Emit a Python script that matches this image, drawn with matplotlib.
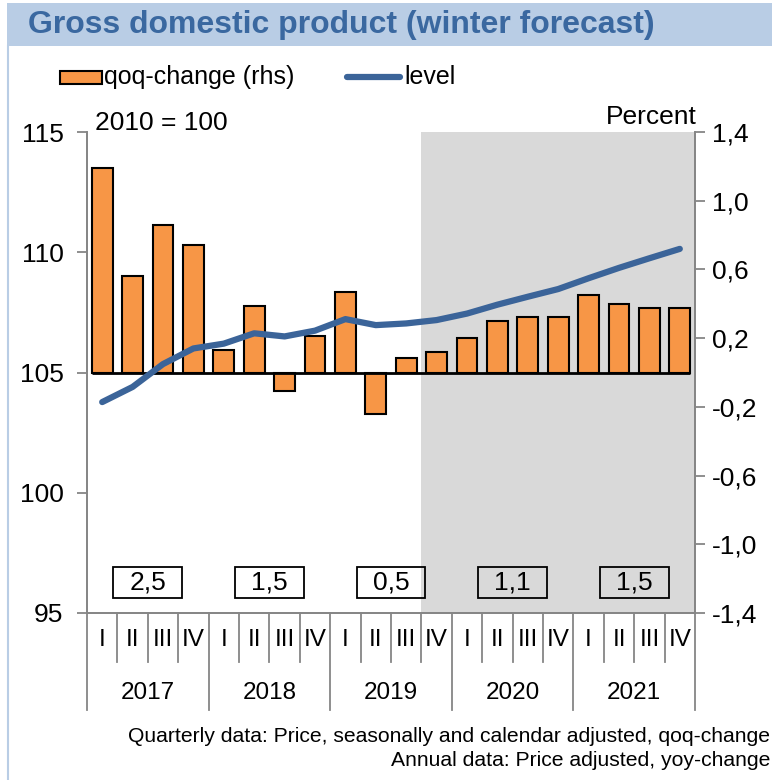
import matplotlib.pyplot as plt
from matplotlib.patches import Rectangle
from matplotlib.lines import Line2D
import matplotlib.transforms as mtransforms

plt.rcParams['font.family'] = ['Liberation Sans', 'DejaVu Sans']

years = ["2017", "2018", "2019", "2020", "2021"]
quarters = ["I", "II", "III", "IV"]
annual = ["2,5", "1,5", "0,5", "1,1", "1,5"]

qoq = [1.19, 0.56, 0.86, 0.74,
       0.13, 0.39, -0.11, 0.21,
       0.47, -0.24, 0.085, 0.12,
       0.20, 0.30, 0.325, 0.325,
       0.45, 0.40, 0.375, 0.375]
level = [103.77, 104.4, 105.35, 106.0,
         106.2, 106.63, 106.5, 106.74,
         107.22, 106.97, 107.04, 107.18,
         107.45, 107.82, 108.15, 108.47,
         108.92, 109.35, 109.75, 110.14]

right_ticks = [-1.4, -1.0, -0.6, -0.2, 0.2, 0.6, 1.0, 1.4]
left_ticks = [95, 100, 105, 110, 115]
forecast_start = 11  # first forecast quarter (2019 Q4)

orange = "#f79646"
blue = "#3b6499"
grey = "#868686"
band = "#b9cde5"
title_col = "#3a68a0"

fig = plt.figure(figsize=(7.72, 7.8), dpi=100)
W, H = 772, 780

# title band and frame line
fig.patches.append(Rectangle((7 / W, 1 - 46 / H), 1, 43 / H, transform=fig.transFigure,
                             facecolor=band, edgecolor="none", zorder=0))
fig.add_artist(Line2D([7.5 / W, 7.5 / W], [0, 1 - 46 / H], transform=fig.transFigure,
                      color=band, lw=1.5))
fig.text(28 / W, 1 - 25 / H, "Gross domestic product (winter forecast)", fontsize=23,
         fontweight="bold", color=title_col, va="center", ha="left")

ax = fig.add_axes([87 / W, 1 - 613 / H, (695 - 87) / W, (613 - 132) / H])
ax2 = ax.twinx()

n = len(qoq)
x = list(range(n))
w = 0.69

ax.axvspan(forecast_start - 0.5, n - 0.5, color="#d9d9d9", zorder=0, lw=0)
ax.bar(x, qoq, width=w, color=orange, edgecolor="black", linewidth=1.5, zorder=2)
ax.plot([x[0] - w / 2, x[-1] + w / 2], [0, 0], color="black", lw=2, zorder=3, solid_capstyle="butt")
ax.set_ylim(-1.4, 1.4)
ax.set_xlim(-0.5, n - 0.5)
ax.yaxis.tick_right()
ax.set_yticks(right_ticks)
ax.set_yticklabels([f"{t:.1f}".replace(".", ",") for t in right_ticks])
ax.set_xticks([])

ax2.plot(x, level, color=blue, lw=4.5, solid_capstyle="round", zorder=4)
ax2.set_ylim(95, 115)
ax2.yaxis.tick_left()
ax2.set_yticks(left_ticks)
ax2.set_yticklabels([str(t) for t in left_ticks])

for a in (ax, ax2):
    a.spines["top"].set_visible(False)
    for s in ("left", "right", "bottom"):
        a.spines[s].set_color(grey)
        a.spines[s].set_linewidth(1.3)
    a.tick_params(axis="y", colors=grey, labelcolor="black", labelsize=19, length=7, width=1.3,
                  direction="out")
ax.tick_params(axis="y", pad=5)
ax2.tick_params(axis="y", pad=10)
ax2.patch.set_visible(False)

# category axis below the plot
trans = mtransforms.blended_transform_factory(ax.transData, ax.transAxes)
for i in range(n + 1):
    depth = -0.2017 if i % 4 == 0 else -0.102
    ax.plot([i - 0.5, i - 0.5], [0, depth], transform=trans, color=grey, lw=1.3, clip_on=False)
for i in range(n):
    ax.text(i, -0.056, quarters[i % 4], transform=trans, ha="center", va="center", fontsize=17.5)
for k, yr in enumerate(years):
    c = 4 * k + 1.5
    ax.text(c, -0.166, yr, transform=trans, ha="center", va="center", fontsize=17.5)
    ax.add_patch(Rectangle((c - 1.13, 0.031), 2.26, 0.064, transform=trans, facecolor="none",
                           edgecolor="black", lw=1.3, zorder=5))
    ax.text(c, 0.063, annual[k], transform=trans, ha="center", va="center", fontsize=19, zorder=6)

ax.text(8 / 608, 0.994, "2010 = 100", transform=ax.transAxes, fontsize=19, va="bottom", ha="left")
ax.text(1.003, 1.006, "Percent", transform=ax.transAxes, fontsize=19, va="bottom", ha="right")

# legend drawn by hand
fig.patches.append(Rectangle((60 / W, 1 - 84 / H), 42 / W, 13 / H, transform=fig.transFigure,
                             facecolor=orange, edgecolor="black", lw=1.5))
fig.text(104 / W, 1 - 77 / H, "qoq-change (rhs)", fontsize=18, va="center", ha="left")
fig.add_artist(Line2D([347 / W, 400 / W], [1 - 77 / H, 1 - 77 / H], transform=fig.transFigure,
                      color=blue, lw=4.5, solid_capstyle="round"))
fig.text(404 / W, 1 - 77 / H, "level", fontsize=18, va="center", ha="left")

fig.text(770 / W, 1 - 737 / H, "Quarterly data: Price, seasonally and calendar adjusted, qoq-change",
         ha="right", va="center", fontsize=15.2)
fig.text(770 / W, 1 - 760 / H, "Annual data: Price adjusted, yoy-change",
         ha="right", va="center", fontsize=15.2)

fig.savefig("out.png", dpi=100)
